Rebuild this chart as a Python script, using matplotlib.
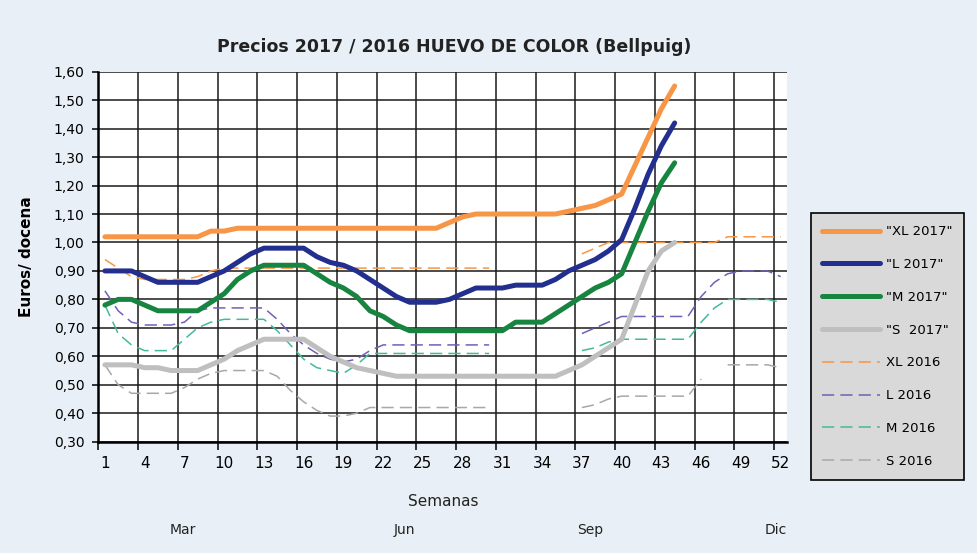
import numpy as np
import matplotlib
matplotlib.use("Agg")
from matplotlib import pyplot as plt

nan = np.nan

# semanas 2017 (1..44) y 2016 (1..52)
weeks_2017 = list(range(1, 45))
weeks_2016 = list(range(1, 53))

xl_2017 = [1.02, 1.02, 1.02, 1.02, 1.02, 1.02, 1.02, 1.02, 1.04, 1.04,
           1.05, 1.05, 1.05, 1.05, 1.05, 1.05, 1.05, 1.05, 1.05, 1.05,
           1.05, 1.05, 1.05, 1.05, 1.05, 1.05, 1.07, 1.09, 1.10, 1.10,
           1.10, 1.10, 1.10, 1.10, 1.10, 1.11, 1.12, 1.13, 1.15, 1.17,
           1.27, 1.37, 1.47, 1.55]
l_2017 = [0.90, 0.90, 0.90, 0.88, 0.86, 0.86, 0.86, 0.86, 0.88, 0.90,
          0.93, 0.96, 0.98, 0.98, 0.98, 0.98, 0.95, 0.93, 0.92, 0.90,
          0.87, 0.84, 0.81, 0.79, 0.79, 0.79, 0.80, 0.82, 0.84, 0.84,
          0.84, 0.85, 0.85, 0.85, 0.87, 0.90, 0.92, 0.94, 0.97, 1.01,
          1.12, 1.24, 1.34, 1.42]
m_2017 = [0.78, 0.80, 0.80, 0.78, 0.76, 0.76, 0.76, 0.76, 0.79, 0.82,
          0.87, 0.90, 0.92, 0.92, 0.92, 0.92, 0.89, 0.86, 0.84, 0.81,
          0.76, 0.74, 0.71, 0.69, 0.69, 0.69, 0.69, 0.69, 0.69, 0.69,
          0.69, 0.72, 0.72, 0.72, 0.75, 0.78, 0.81, 0.84, 0.86, 0.89,
          1.00, 1.11, 1.21, 1.28]
s_2017 = [0.57, 0.57, 0.57, 0.56, 0.56, 0.55, 0.55, 0.55, 0.57, 0.59,
          0.62, 0.64, 0.66, 0.66, 0.66, 0.66, 0.63, 0.60, 0.58, 0.56,
          0.55, 0.54, 0.53, 0.53, 0.53, 0.53, 0.53, 0.53, 0.53, 0.53,
          0.53, 0.53, 0.53, 0.53, 0.53, 0.55, 0.57, 0.60, 0.63, 0.66,
          0.78, 0.90, 0.97, 1.00]

xl_2016 = [0.94, 0.91, 0.88, 0.87, 0.87, 0.87, 0.87, 0.88, 0.90, 0.91,
           0.91, 0.91, 0.91, 0.91, 0.91, 0.91, 0.91, 0.91, 0.91, 0.91,
           0.91, 0.91, 0.91, 0.91, 0.91, 0.91, 0.91, 0.91, 0.91, 0.91,
           nan, nan, nan, nan, nan, nan, 0.96, 0.98, 1.00, 1.00,
           1.00, 1.00, 1.00, 1.00, 1.00, 1.00, 1.00, 1.02, 1.02, 1.02,
           1.02, 1.02]
l_2016 = [0.83, 0.76, 0.72, 0.71, 0.71, 0.71, 0.72, 0.76, 0.77, 0.77,
          0.77, 0.77, 0.77, 0.73, 0.68, 0.64, 0.61, 0.59, 0.58, 0.59,
          0.62, 0.64, 0.64, 0.64, 0.64, 0.64, 0.64, 0.64, 0.64, 0.64,
          nan, nan, nan, nan, nan, nan, 0.68, 0.70, 0.72, 0.74,
          0.74, 0.74, 0.74, 0.74, 0.74, 0.81, 0.86, 0.89, 0.90, 0.90,
          0.90, 0.88]
m_2016 = [0.78, 0.68, 0.64, 0.62, 0.62, 0.62, 0.66, 0.70, 0.72, 0.73,
          0.73, 0.73, 0.73, 0.69, 0.64, 0.59, 0.56, 0.55, 0.54, 0.57,
          0.61, 0.61, 0.61, 0.61, 0.61, 0.61, 0.61, 0.61, 0.61, 0.61,
          nan, nan, nan, nan, nan, nan, 0.62, 0.63, 0.65, 0.66,
          0.66, 0.66, 0.66, 0.66, 0.66, 0.72, 0.77, 0.80, 0.80, 0.80,
          0.80, 0.79]
s_2016 = [0.57, 0.50, 0.47, 0.47, 0.47, 0.47, 0.49, 0.52, 0.54, 0.55,
          0.55, 0.55, 0.55, 0.53, 0.48, 0.44, 0.41, 0.39, 0.39, 0.40,
          0.42, 0.42, 0.42, 0.42, 0.42, 0.42, 0.42, 0.42, 0.42, 0.42,
          nan, nan, nan, nan, nan, nan, 0.42, 0.43, 0.45, 0.46,
          0.46, 0.46, 0.46, 0.46, 0.46, 0.52, nan, 0.57, 0.57, 0.57,
          0.57, 0.56]

labels_2017 = ['"XL 2017"', '"L 2017"', '"M 2017"', '"S  2017"']
labels_2016 = ['XL 2016', 'L 2016', 'M 2016', 'S 2016']
colors_2017 = ['#f79646', '#232f8e', '#17843f', '#bfbfbf']
colors_2016 = ['#f79646', '#7060b8', '#45b99c', '#a8a8a8']

month_labels = ['Mar', 'Jun', 'Sep', 'Dic']
month_pos = [6.9, 23.6, 37.6, 51.6]

fig = plt.figure(figsize=(9.78, 5.53), dpi=100)
fig.patch.set_facecolor('#e9eff6')
ax = fig.add_axes([0.1005, 0.2013, 0.7045, 0.669])
ax.set_facecolor('white')

handles = []
for vals, lab, col in zip([xl_2017, l_2017, m_2017, s_2017], labels_2017, colors_2017):
    h, = ax.plot(weeks_2017, vals, color=col, lw=3.6, solid_capstyle='round',
                 solid_joinstyle='round', label=lab, zorder=4)
    handles.append(h)
for vals, lab, col in zip([xl_2016, l_2016, m_2016, s_2016], labels_2016, colors_2016):
    h, = ax.plot(weeks_2016, vals, color=col, lw=1.1, dashes=(8, 4),
                 label=lab, zorder=3)
    handles.append(h)

ax.set_xlim(0.5, 52.5)
ax.set_ylim(0.3, 1.6)

# gridlines at category boundaries, labels centred on the weeks
ax.set_xticks(np.arange(0.5, 52, 3), minor=True)
ax.set_xticks(np.arange(1, 53, 3))
ax.tick_params(axis='x', which='major', length=0, pad=10, labelsize=11)
ax.tick_params(axis='x', which='minor', length=6, width=1.1, color='black')
ax.set_yticks(np.arange(0.3, 1.61, 0.1))
ax.set_yticklabels([f"{v:.2f}".replace('.', ',') for v in np.arange(0.3, 1.61, 0.1)])
ax.tick_params(axis='y', length=4, width=1.1, labelsize=10, pad=6)

ax.grid(True, axis='x', which='minor', color='#1a1a1a', lw=1.1, zorder=1)
ax.grid(True, axis='y', which='major', color='#1a1a1a', lw=1.1, zorder=1)
ax.set_axisbelow(True)

for side in ['top', 'right']:
    ax.spines[side].set_visible(False)
ax.spines['left'].set_linewidth(1.8)
ax.spines['bottom'].set_linewidth(1.8)

ax.set_title('Precios 2017 / 2016 HUEVO DE COLOR (Bellpuig)', fontsize=12.5,
             fontweight='bold', color='#222222', pad=14, x=0.517)
ax.set_ylabel('Euros/ docena', fontsize=11, fontweight='bold', labelpad=14)
ax.set_xlabel('Semanas', fontsize=11, labelpad=17, color='#222222')

trans = ax.get_xaxis_transform()
for m, p in zip(month_labels, month_pos):
    ax.text(p, -0.24, m, transform=trans, ha='center', va='center',
            fontsize=10, color='#222222')

leg = fig.legend(handles=handles, loc='upper left',
                 bbox_to_anchor=(0.822, 0.626), fontsize=9.5,
                 labelspacing=1.5, handlelength=4.4, fancybox=False,
                 framealpha=1, facecolor='#d9d9d9', edgecolor='black',
                 borderpad=0.9, handletextpad=0.4)
leg.get_frame().set_linewidth(1.2)

fig.savefig('out.png', dpi=100, facecolor=fig.get_facecolor())
